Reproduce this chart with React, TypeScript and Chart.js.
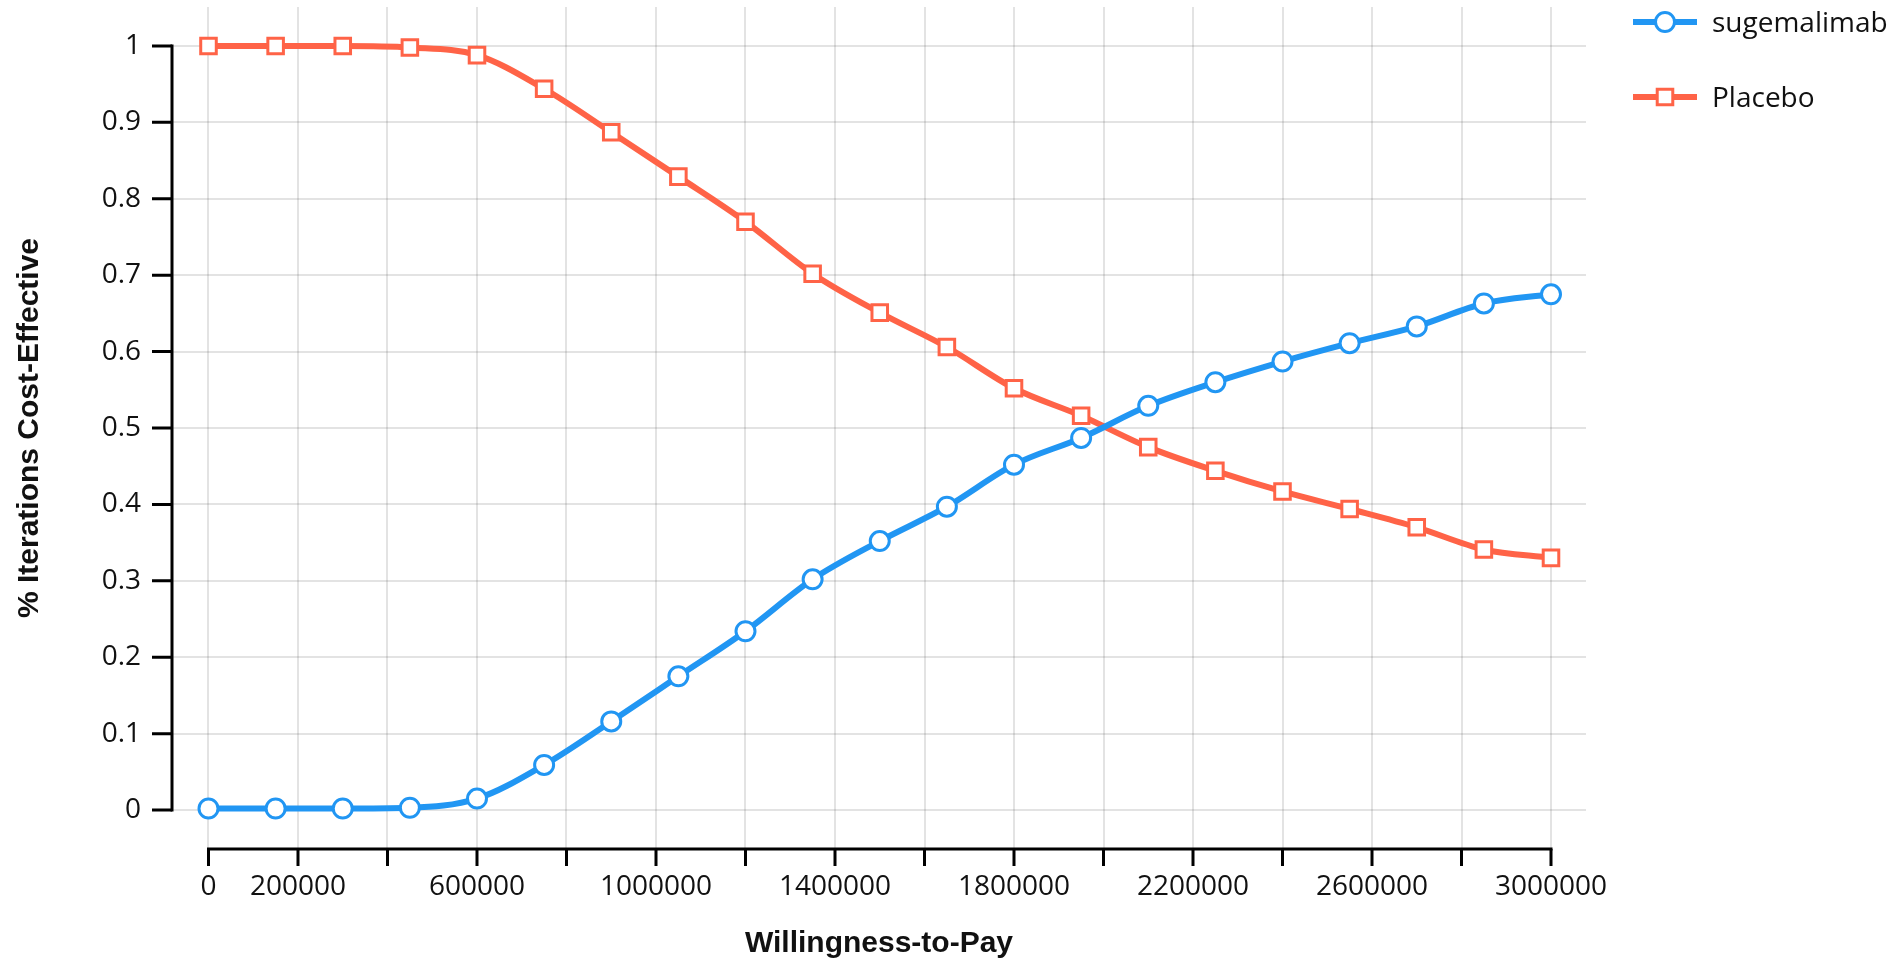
import React, { useEffect, useRef } from 'react';
import { Chart, registerables } from 'chart.js';

Chart.register(...registerables);

// ---- Data ----
const wtpValues = [
  0, 150000, 300000, 450000, 600000, 750000, 900000, 1050000, 1200000, 1350000,
  1500000, 1650000, 1800000, 1950000, 2100000, 2250000, 2400000, 2550000, 2700000,
  2850000, 3000000,
];
const sugemalimabValues = [
  0.002, 0.002, 0.002, 0.003, 0.015, 0.059, 0.116, 0.175, 0.234, 0.302,
  0.352, 0.397, 0.452, 0.487, 0.529, 0.56, 0.587, 0.611, 0.633, 0.663, 0.675,
];
const placeboValues = [
  1.0, 1.0, 1.0, 0.998, 0.988, 0.944, 0.887, 0.829, 0.77, 0.702,
  0.651, 0.606, 0.552, 0.516, 0.475, 0.444, 0.417, 0.394, 0.37, 0.341, 0.33,
];
const xTickValues = [
  0, 200000, 400000, 600000, 800000, 1000000, 1200000, 1400000, 1600000,
  1800000, 2000000, 2200000, 2400000, 2600000, 2800000, 3000000,
];
const xTickLabelsShown = [
  '0', '200000', '600000', '1000000', '1400000', '1800000', '2200000', '2600000', '3000000',
];
const yTickValues = [0, 0.1, 0.2, 0.3, 0.4, 0.5, 0.6, 0.7, 0.8, 0.9, 1];
const yTickLabels = ['0', '0.1', '0.2', '0.3', '0.4', '0.5', '0.6', '0.7', '0.8', '0.9', '1'];

const seriesNames = ['sugemalimab', 'Placebo'];
const seriesColors = ['#2196F3', '#FF6347'];
const seriesMarkers = ['circle', 'rect'];
const seriesMarkerRadius = [9.5, 11];

const TICK_FONT = { family: '"Open Sans", "Noto Sans", sans-serif', size: 28 };
const TITLE_FONT = { family: '"Liberation Sans", Arial, sans-serif', size: 30, weight: 'bold' as const };

function drawMarker(ctx: CanvasRenderingContext2D, style: string, x: number, y: number, r: number, color: string) {
  ctx.save();
  ctx.fillStyle = '#fff';
  ctx.strokeStyle = color;
  ctx.lineWidth = 3;
  ctx.beginPath();
  if (style === 'rect') {
    const s = Math.SQRT1_2 * r;
    ctx.rect(x - s, y - s, 2 * s, 2 * s);
  } else {
    ctx.arc(x, y, r, 0, Math.PI * 2);
  }
  ctx.fill();
  ctx.stroke();
  ctx.restore();
}

const axesPlugin = {
  id: 'customAxes',
  beforeDatasetsDraw(chart: any) {
    const { ctx, chartArea, scales } = chart;
    const xs = scales.x;
    const ys = scales.y;
    ctx.save();
    ctx.strokeStyle = '#000';
    ctx.lineWidth = 3;
    ctx.lineCap = 'square';
    const yb = chartArea.bottom;
    const xa = xs.getPixelForValue(xTickValues[0]);
    const xb = xs.getPixelForValue(xTickValues[xTickValues.length - 1]);
    ctx.beginPath();
    ctx.moveTo(xa, yb);
    ctx.lineTo(xb, yb);
    ctx.stroke();
    ctx.lineCap = 'butt';
    ctx.beginPath();
    xTickValues.forEach((v) => {
      const px = xs.getPixelForValue(v);
      ctx.moveTo(px, yb);
      ctx.lineTo(px, yb + 17);
    });
    ctx.stroke();
    const xl = chartArea.left;
    const y0 = ys.getPixelForValue(yTickValues[0]);
    const y1 = ys.getPixelForValue(yTickValues[yTickValues.length - 1]);
    ctx.lineCap = 'square';
    ctx.beginPath();
    ctx.moveTo(xl, y0);
    ctx.lineTo(xl, y1);
    ctx.stroke();
    ctx.lineCap = 'butt';
    ctx.beginPath();
    yTickValues.forEach((v) => {
      const py = ys.getPixelForValue(v);
      ctx.moveTo(xl - 20, py);
      ctx.lineTo(xl, py);
    });
    ctx.stroke();
    ctx.restore();
  },
};

const legendPlugin = {
  id: 'customLegend',
  afterDraw(chart: any) {
    const { ctx } = chart;
    const lineStart = chart.width - 269;
    const lineEnd = chart.width - 205;
    const textX = chart.width - 190;
    const rows = [22, 97];
    ctx.save();
    seriesNames.forEach((name, i) => {
      const y = rows[i];
      ctx.strokeStyle = seriesColors[i];
      ctx.lineWidth = 6;
      ctx.beginPath();
      ctx.moveTo(lineStart, y);
      ctx.lineTo(lineEnd, y);
      ctx.stroke();
      drawMarker(ctx, seriesMarkers[i], (lineStart + lineEnd) / 2, y, seriesMarkerRadius[i], seriesColors[i]);
      ctx.fillStyle = '#111';
      ctx.font = `${TICK_FONT.size}px ${TICK_FONT.family}`;
      ctx.textAlign = 'left';
      ctx.textBaseline = 'middle';
      ctx.fillText(name, textX, y + 2);
    });
    ctx.restore();
  },
};

export default function App() {
  const canvasRef = useRef<HTMLCanvasElement | null>(null);

  useEffect(() => {
    const canvas = canvasRef.current;
    if (!canvas) return;
    const seriesValues = [sugemalimabValues, placeboValues];
    const chart = new Chart(canvas, {
      type: 'line',
      data: {
        datasets: seriesNames.map((name, i) => ({
          label: name,
          data: wtpValues.map((x, j) => ({ x, y: seriesValues[i][j] })),
          borderColor: seriesColors[i],
          backgroundColor: '#ffffff',
          borderWidth: 6,
          pointStyle: seriesMarkers[i] as any,
          pointRadius: seriesMarkerRadius[i],
          pointHoverRadius: seriesMarkerRadius[i],
          pointBorderWidth: 3,
          pointBackgroundColor: '#ffffff',
          pointBorderColor: seriesColors[i],
          cubicInterpolationMode: 'monotone' as const,
          fill: false,
          clip: false as any,
        })),
      },
      options: {
        animation: false,
        responsive: false,
        maintainAspectRatio: false,
        layout: { autoPadding: false, padding: { top: 7, right: 316, left: 0, bottom: 0 } },
        plugins: {
          legend: { display: false },
          tooltip: { enabled: false },
        },
        scales: {
          x: {
            type: 'linear',
            min: -81564,
            max: 3078212,
            afterBuildTicks: (scale: any) => {
              scale.ticks = xTickValues.map((v) => ({ value: v }));
            },
            afterFit: (scale: any) => {
              scale.height = 121;
              scale.paddingLeft = 0;
              scale.paddingRight = 0;
            },
            grid: {
              color: 'rgba(0,0,0,0.11)',
              lineWidth: 2,
              drawTicks: false,
            },
            border: { display: false },
            ticks: {
              autoSkip: false,
              maxRotation: 0,
              minRotation: 0,
              padding: 21,
              color: '#111',
              font: TICK_FONT,
              callback: (value: any) => {
                const s = String(value);
                return xTickLabelsShown.includes(s) ? s : '';
              },
            },
            title: {
              display: true,
              text: 'Willingness-to-Pay',
              color: '#111',
              font: TITLE_FONT,
              padding: { top: 0, bottom: 8 },
            },
          },
          y: {
            type: 'linear',
            min: -0.051,
            max: 1.051,
            afterBuildTicks: (scale: any) => {
              scale.ticks = yTickValues.map((v) => ({ value: v }));
            },
            afterFit: (scale: any) => {
              scale.width = 172;
              scale.paddingTop = 0;
              scale.paddingBottom = 0;
            },
            grid: {
              color: 'rgba(0,0,0,0.11)',
              lineWidth: 2,
              drawTicks: false,
            },
            border: { display: false },
            ticks: {
              padding: 31,
              color: '#111',
              font: TICK_FONT,
              callback: (value: any) => {
                const idx = yTickValues.findIndex((v) => Math.abs(v - Number(value)) < 1e-9);
                return idx >= 0 ? yTickLabels[idx] : '';
              },
            },
            title: {
              display: true,
              text: '% Iterations Cost-Effective',
              color: '#111',
              font: TITLE_FONT,
              padding: { top: 12, bottom: 0 },
            },
          },
        },
      },
      plugins: [axesPlugin, legendPlugin],
    });
    return () => chart.destroy();
  }, []);

  return (
    <div style={{ position: 'fixed', left: 0, top: 0, width: 1902, height: 970, background: '#fff' }}>
      <canvas ref={canvasRef} width={1902} height={970} style={{ display: 'block' }} />
    </div>
  );
}
